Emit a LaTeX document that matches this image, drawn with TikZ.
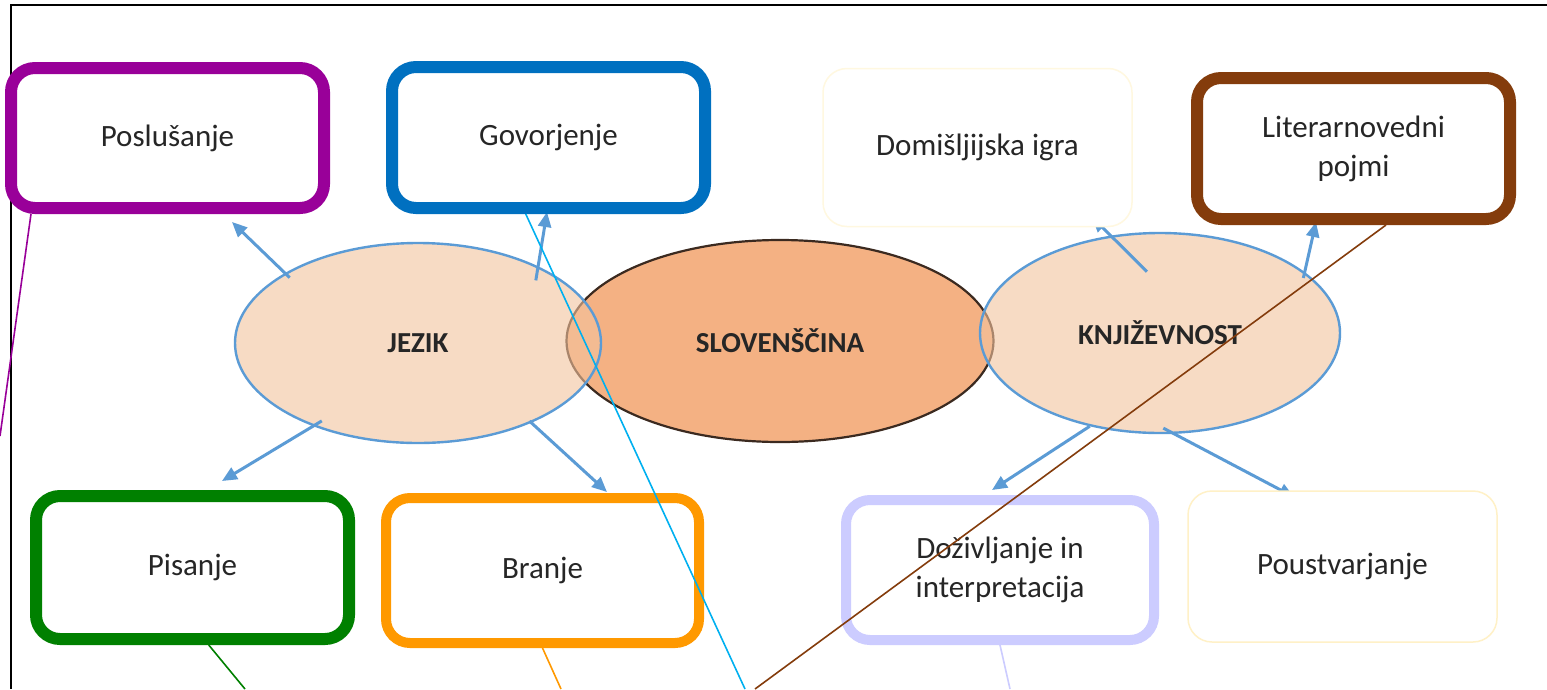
\documentclass[tikz,border=0pt]{standalone}
\usepackage{fontspec}
\setmainfont{Carlito}
\usepackage{tikz}
\usetikzlibrary{calc}
\usetikzlibrary{shapes.geometric}
\usetikzlibrary{arrows.meta}

\definecolor{boxPurple}{HTML}{990099}
\definecolor{boxBlue}{HTML}{0070C0}
\definecolor{boxBrown}{HTML}{843C0C}
\definecolor{boxGreen}{HTML}{008000}
\definecolor{boxOrange}{HTML}{FF9900}
\definecolor{boxLavender}{HTML}{CCCCFF}
\definecolor{lineCyan}{HTML}{00B0F0}
\definecolor{paleYellow}{HTML}{FFE699}
\definecolor{arrowBlue}{HTML}{5B9BD5}
\definecolor{sideFill}{HTML}{F3C39D}
\definecolor{mainFill}{HTML}{F4B183}
\definecolor{mainEdge}{HTML}{3B2A20}
\definecolor{labelText}{HTML}{262626}

\tikzset{
	topic/.style={
		draw=#1,
		fill=white,
		rounded corners=24pt,
		inner sep=0pt,
		align=center,
		text=labelText,
		font=\fontsize{31}{39}\selectfont
	},
	area/.style={
		ellipse,
		inner sep=0pt,
		text=labelText,
		font=\bfseries\fontsize{29}{34}\selectfont
	},
	branch/.style={
		draw=arrowBlue,
		line width=3pt,
		-{Triangle[length=15pt,width=13pt]}
	},
	callout/.style={
		draw=#1,
		line width=1.6pt
	}
}

\begin{document}
\begin{tikzpicture}[x=1pt,y=-1pt]

	\useasboundingbox[fill=white] (0,0) rectangle (1547,689);

	% frame of the pasted picture
	\draw[line width=1.4pt] (10,5) -- (1547,5);
	\draw[line width=1.4pt] (11,5) -- (11,689);

	% the three ellipses
	\node[
		area,
		draw=mainEdge,
		line width=2.2pt,
		fill=mainFill,
		minimum width=427pt,
		minimum height=202pt
	] (slovenscina) at (780,341) {SLOVENŠČINA};

	\node[
		area,
		draw=arrowBlue,
		line width=2.4pt,
		fill=sideFill,
		fill opacity=0.6,
		text opacity=1,
		minimum width=366pt,
		minimum height=200pt
	] (jezik) at (418,343) {JEZIK};

	\node[
		area,
		draw=arrowBlue,
		line width=2.4pt,
		fill=sideFill,
		fill opacity=0.6,
		text opacity=1,
		minimum width=360pt,
		minimum height=200pt
	] (knjizevnost) at (1160,333) {KNJIŽEVNOST};

	% tips of the blue arrows
	\coordinate (tipPoslusanje) at (232,222);
	\coordinate (tipGovorjenje) at (547,212);
	\coordinate (tipPisanje) at (222,481);
	\coordinate (tipBranje) at (607,492);
	\coordinate (tipDomisljija) at (1092,217);
	\coordinate (tipPojmi) at (1316,222);
	\coordinate (tipDozivljanje) at (992,490);
	\coordinate (tipPoustvarjanje) at (1294,497);

	\draw[branch] ($(jezik.center)!0.95!(jezik.153)$) -- (tipPoslusanje);
	\draw[branch] ($(jezik.center)!0.89!(jezik.28)$) -- (tipGovorjenje);
	\draw[branch] ($(jezik.center)!0.93!(jezik.219)$) -- (tipPisanje);
	\draw[branch] ($(jezik.center)!0.98!(jezik.325)$) -- (tipBranje);
	\draw[branch] ($(knjizevnost.center)!0.61!(knjizevnost.102)$) -- (tipDomisljija);
	\draw[branch] ($(knjizevnost.center)!0.96!(knjizevnost.21)$) -- (tipPojmi);
	\draw[branch] (knjizevnost.233) -- (tipDozivljanje);
	\draw[branch] ($(knjizevnost.center)!0.94!(knjizevnost.272)$) -- (tipPoustvarjanje);

	% boxes
	\node[
		topic=boxPurple,
		line width=12pt,
		minimum width=313pt,
		minimum height=140pt
	] (poslusanje) at (167.5,138) {Poslušanje};

	\node[
		topic=boxBlue,
		line width=12pt,
		minimum width=313pt,
		minimum height=141pt
	] (govorjenje) at (548.5,137.5) {Govorjenje};

	\node[
		topic=paleYellow!30!white,
		line width=1.5pt,
		minimum width=309pt,
		minimum height=158pt
	] (domisljija) at (977.5,147.5) {Domišljijska igra};

	\node[
		topic=boxBrown,
		line width=12pt,
		minimum width=313pt,
		minimum height=141pt
	] (pojmi) at (1353.5,148.5) {Literarnovedni\\pojmi};

	\node[
		topic=boxGreen,
		line width=12pt,
		minimum width=313pt,
		minimum height=143pt
	] (pisanje) at (192.5,567.5) {Pisanje};

	\node[
		topic=boxOrange,
		line width=10pt,
		minimum width=313pt,
		minimum height=145pt
	] (branje) at (542.5,570.5) {Branje};

	\node[
		topic=boxLavender,
		line width=10pt,
		minimum width=308pt,
		minimum height=140pt
	] (dozivljanje) at (1000,570) {Doživljanje in\\interpretacija};

	\node[
		topic=paleYellow!55!white,
		line width=1.5pt,
		minimum width=309pt,
		minimum height=151pt
	] (poustvarjanje) at (1342.5,566.5) {Poustvarjanje};

	% callout lines leaving the picture
	\coordinate (endPurple) at (0,436);
	\coordinate (endCyan) at (745,689);
	\coordinate (endBrown) at (755,689);
	\coordinate (endGreen) at (245,689);
	\coordinate (endOrange) at (561,689);
	\coordinate (endLavender) at (1010,689);

	\draw[callout=boxPurple] ($(poslusanje.south west)!0.08!(poslusanje.south east)$) -- (endPurple);
	\draw[callout=lineCyan] ($(govorjenje.south west)!0.43!(govorjenje.south east)$) -- (endCyan);
	\draw[callout=boxBrown] ($(pojmi.south west)!0.6!(pojmi.south east)$) -- (endBrown);
	\draw[callout=boxGreen] ($(pisanje.south west)!0.55!(pisanje.south east)$) -- (endGreen);
	\draw[callout=boxOrange] (branje.south) -- (endOrange);
	\draw[callout=boxLavender] (dozivljanje.south) -- (endLavender);

\end{tikzpicture}
\end{document}
